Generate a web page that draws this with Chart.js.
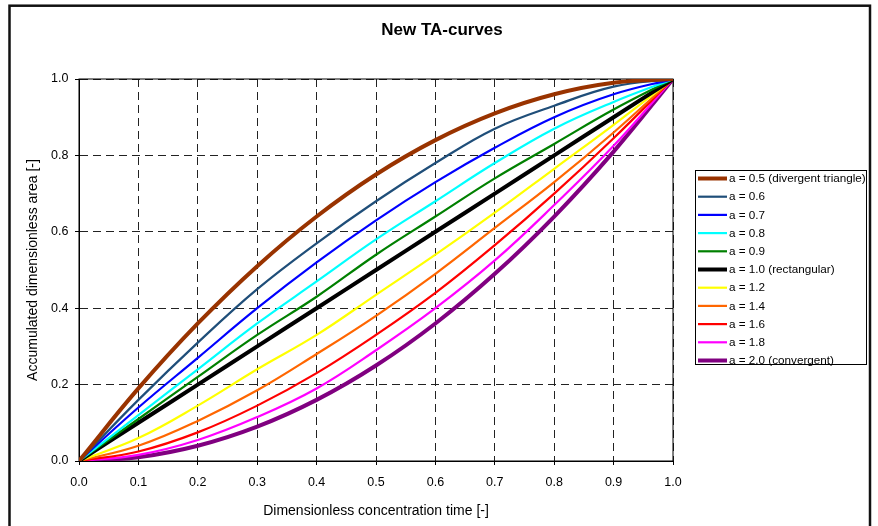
<!DOCTYPE html>
<html lang="en">
  <head>
    <meta charset="UTF-8" />
    <title>New TA-curves</title>
    <script src="https://cdn.jsdelivr.net/npm/chart.js"></script>
    <style>
      body {
        margin: 0;
        background: #fff;
      }
      #wrap {
        width: 878px;
        height: 526px;
      }
    </style>
  </head>
  <body>
    <div id="wrap">
      <canvas id="taChart" width="878" height="526"></canvas>
    </div>

    <script>
      // dimensionless concentration time (x)
      const timeSteps = [0, 0.1, 0.2, 0.3, 0.4, 0.5, 0.6, 0.7, 0.8, 0.9, 1.0];

      // accumulated dimensionless area
      const a05 = [0, 0.19, 0.36, 0.51, 0.64, 0.75, 0.84, 0.91, 0.96, 0.99, 1];
      const a06 = [0, 0.16, 0.31, 0.45, 0.57, 0.68, 0.78, 0.87, 0.93, 0.98, 1];
      const a07 = [0, 0.14, 0.27, 0.4, 0.52, 0.63, 0.73, 0.82, 0.9, 0.96, 1];
      const a08 = [0, 0.12, 0.24, 0.36, 0.47, 0.58, 0.68, 0.78, 0.87, 0.94, 1];
      const a09 = [0, 0.11, 0.22, 0.33, 0.43, 0.54, 0.64, 0.74, 0.83, 0.92, 1];
      const a10 = [0, 0.1, 0.2, 0.3, 0.4, 0.5, 0.6, 0.7, 0.8, 0.9, 1];
      const a12 = [0, 0.06, 0.145, 0.24, 0.33, 0.435, 0.54, 0.65, 0.765, 0.88, 1];
      const a14 = [0, 0.04, 0.105, 0.185, 0.28, 0.38, 0.49, 0.61, 0.73, 0.86, 1];
      const a16 = [0, 0.025, 0.075, 0.145, 0.23, 0.33, 0.44, 0.565, 0.7, 0.845, 1];
      const a18 = [0, 0.016, 0.055, 0.115, 0.19, 0.29, 0.4, 0.525, 0.67, 0.825, 1];
      const a20 = [0, 0.01, 0.04, 0.09, 0.16, 0.25, 0.36, 0.49, 0.64, 0.81, 1];

      const seriesValues = [a05, a06, a07, a08, a09, a10, a12, a14, a16, a18, a20];
      const seriesLabels = [
        "a = 0.5 (divergent triangle)",
        "a = 0.6",
        "a = 0.7",
        "a = 0.8",
        "a = 0.9",
        "a = 1.0 (rectangular)",
        "a = 1.2",
        "a = 1.4",
        "a = 1.6",
        "a = 1.8",
        "a = 2.0 (convergent)",
      ];
      const seriesColors = [
        "#993300",
        "#1f4e79",
        "#0000ff",
        "#00ffff",
        "#008000",
        "#000000",
        "#ffff00",
        "#ff6600",
        "#ff0000",
        "#ff00ff",
        "#800080",
      ];
      const seriesWidths = [4, 2.2, 2.2, 2.2, 2.2, 4, 2.2, 2.2, 2.2, 2.2, 4];

      const FONT = '"Liberation Sans", Arial, sans-serif';
      Chart.defaults.font.family = FONT;
      Chart.defaults.color = "#000";

      const datasets = seriesValues.map((vals, i) => ({
        label: seriesLabels[i],
        data: vals.map((v, j) => ({ x: timeSteps[j], y: v })),
        borderColor: seriesColors[i],
        backgroundColor: seriesColors[i],
        borderWidth: seriesWidths[i],
        pointRadius: 0,
        fill: false,
        tension: 0.4,
      }));

      // plot border, outer frame, title and boxed legend
      const decorations = {
        id: "decorations",
        beforeDatasetsDraw(chart) {
          const { ctx, chartArea: a } = chart;
          ctx.save();
          ctx.strokeStyle = "#000";
          ctx.lineWidth = 1;
          ctx.strokeRect(a.left, a.top, a.right - a.left, a.bottom - a.top);
          ctx.restore();
        },
        afterDraw(chart) {
          const ctx = chart.ctx;
          ctx.save();

          // outer frame
          ctx.strokeStyle = "#111";
          ctx.lineWidth = 2.5;
          ctx.strokeRect(9.5, 5.7, 860.5, 600);

          // title
          ctx.fillStyle = "#000";
          ctx.font = "bold 17px " + FONT;
          ctx.textAlign = "center";
          ctx.textBaseline = "middle";
          ctx.fillText("New TA-curves", 442, 30.5);

          // legend
          const lx = 695, ly = 170, lw = 171, lh = 194;
          ctx.lineWidth = 1;
          ctx.strokeStyle = "#000";
          ctx.strokeRect(lx + 0.5, ly + 0.5, lw, lh);
          ctx.font = "11.7px " + FONT;
          ctx.textAlign = "left";
          chart.data.datasets.forEach((ds, i) => {
            const y = 178.5 + i * 18.2;
            ctx.strokeStyle = ds.borderColor;
            ctx.lineWidth = ds.borderWidth;
            ctx.beginPath();
            ctx.moveTo(698, y);
            ctx.lineTo(727, y);
            ctx.stroke();
            ctx.fillStyle = "#000";
            ctx.fillText(ds.label, 729, y + 0.5);
          });
          ctx.restore();
        },
      };

      const gridOpts = {
        color: "#222",
        lineWidth: 1,
        tickLength: 4,
        tickColor: "#000",
        tickWidth: 1,
      };
      const borderOpts = { color: "#000", width: 1, dash: [8, 5] };

      new Chart(document.getElementById("taChart"), {
        type: "line",
        data: { datasets: datasets },
        plugins: [decorations],
        options: {
          responsive: false,
          animation: false,
          layout: { padding: { left: 9, right: 205, top: 79, bottom: 0 } },
          plugins: {
            legend: { display: false },
            title: { display: false },
            tooltip: { enabled: false },
          },
          scales: {
            x: {
              type: "linear",
              min: 0,
              max: 1,
              ticks: {
                stepSize: 0.1,
                padding: 10.5,
                color: "#000",
                font: { size: 12.5 },
                callback: (v) => Number(v).toFixed(1),
              },
              grid: gridOpts,
              border: borderOpts,
              title: {
                display: true,
                text: "Dimensionless concentration time [-]",
                color: "#000",
                font: { size: 14 },
                padding: { top: 0, bottom: 6.6 },
              },
              afterFit(scale) {
                scale.height = 65;
              },
            },
            y: {
              type: "linear",
              min: 0,
              max: 1,
              ticks: {
                stepSize: 0.2,
                padding: 6.5,
                color: "#000",
                font: { size: 12.5 },
                callback: (v) => Number(v).toFixed(1),
              },
              grid: gridOpts,
              border: borderOpts,
              title: {
                display: true,
                text: "Accumulated dimensionless area [-]",
                color: "#000",
                font: { size: 14 },
                padding: { top: 15.6, bottom: 0 },
              },
              afterFit(scale) {
                scale.width = 70;
              },
            },
          },
        },
      });
    </script>
  </body>
</html>
